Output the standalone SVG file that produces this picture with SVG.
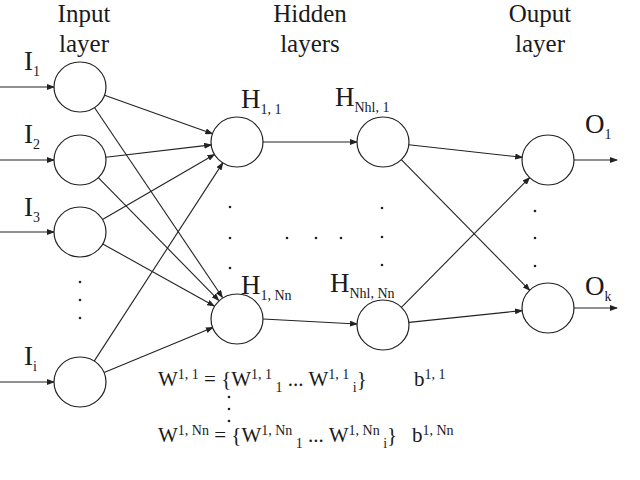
<svg xmlns="http://www.w3.org/2000/svg" width="640" height="480" viewBox="0 0 640 480">
<style>
.n{fill:#fff;stroke:#222;stroke-width:1.2}
.c line{stroke:#222;stroke-width:1.1;marker-end:url(#a)}
text{font-family:"Liberation Serif",serif;fill:#1a1a1a}
.t{font-size:25px;text-anchor:middle}
.l{font-size:27px}
.s{font-size:14px}
.f{font-size:21px}
.d{fill:#222}
</style>
<defs><marker id="a" markerWidth="8" markerHeight="6" refX="7" refY="3" orient="auto" markerUnits="userSpaceOnUse"><path d="M0,0L8,3L0,6z" fill="#222"/></marker></defs>
<rect width="640" height="480" fill="#fff"/>
<text class="t" x="84" y="22">Input</text><text class="t" x="84" y="52">layer</text>
<text class="t" x="310" y="22">Hidden</text><text class="t" x="310" y="52">layers</text>
<text class="t" x="540" y="22">Ouput</text><text class="t" x="540" y="52">layer</text>
<g class="c">
<line x1="0" y1="87" x2="54" y2="87"/><line x1="0" y1="160" x2="54" y2="160"/><line x1="0" y1="232" x2="54" y2="232"/><line x1="0" y1="382" x2="54" y2="382"/>
<line x1="104.6" y1="95.3" x2="212.4" y2="133.7"/><line x1="94.6" y1="107.7" x2="222.4" y2="297.3"/>
<line x1="105.8" y1="157.2" x2="211.2" y2="144.9"/><line x1="98.3" y1="177.7" x2="218.7" y2="300.3"/>
<line x1="102.5" y1="219.6" x2="214.5" y2="154.4"/><line x1="102.8" y1="244" x2="214.2" y2="306"/>
<line x1="94.2" y1="361.1" x2="222.8" y2="162.9"/><line x1="104.1" y1="372.6" x2="212.9" y2="327.5"/>
<line x1="263" y1="142" x2="357" y2="142"/><line x1="263" y1="319" x2="357" y2="324"/>
<line x1="408.8" y1="144.7" x2="522.2" y2="157.3"/><line x1="401.3" y1="159.7" x2="529.7" y2="290.3"/>
<line x1="401.4" y1="307.3" x2="529.6" y2="177.7"/><line x1="409" y1="322.4" x2="522" y2="310.6"/>
<line x1="574" y1="160" x2="617" y2="160"/><line x1="574" y1="308" x2="617" y2="308"/>
</g>
<g id="I1"><ellipse class="n" cx="80" cy="87" rx="26" ry="25"/><text class="l" x="24" y="70">I<tspan class="s" dy="6">1</tspan></text></g>
<g id="I2"><ellipse class="n" cx="80" cy="160" rx="26" ry="25"/><text class="l" x="24" y="143">I<tspan class="s" dy="6">2</tspan></text></g>
<g id="I3"><ellipse class="n" cx="80" cy="232" rx="26" ry="25"/><text class="l" x="24" y="216">I<tspan class="s" dy="6">3</tspan></text></g>
<g id="Ii"><ellipse class="n" cx="80" cy="382" rx="26" ry="25"/><text class="l" x="24" y="365">I<tspan class="s" dy="6">i</tspan></text></g>
<g id="H11"><ellipse class="n" cx="237" cy="142" rx="26" ry="25"/><text class="l" x="241" y="108">H<tspan class="s" dy="6">1, 1</tspan></text></g>
<g id="H1Nn"><ellipse class="n" cx="237" cy="319" rx="26" ry="25"/><text class="l" x="241" y="294">H<tspan class="s" dy="6">1, Nn</tspan></text></g>
<g id="HN1"><ellipse class="n" cx="383" cy="142" rx="26" ry="25"/><text class="l" x="335" y="106">H<tspan class="s" dy="6">Nhl, 1</tspan></text></g>
<g id="HNNn"><ellipse class="n" cx="383" cy="325" rx="26" ry="25"/><text class="l" x="330" y="292">H<tspan class="s" dy="6">Nhl, Nn</tspan></text></g>
<g id="O1"><ellipse class="n" cx="548" cy="160" rx="26" ry="25"/><text class="l" x="585" y="133">O<tspan class="s" dy="6">1</tspan></text></g>
<g id="Ok"><ellipse class="n" cx="548" cy="308" rx="26" ry="25"/><text class="l" x="585" y="295">O<tspan class="s" dy="6">k</tspan></text></g>
<g class="d">
<circle cx="80" cy="282" r="1.3"/><circle cx="80" cy="300" r="1.3"/><circle cx="80" cy="318" r="1.3"/>
<circle cx="230" cy="207" r="1.3"/><circle cx="230" cy="238" r="1.3"/><circle cx="230" cy="268" r="1.3"/>
<circle cx="382" cy="208" r="1.3"/><circle cx="382" cy="237" r="1.3"/><circle cx="382" cy="265" r="1.3"/>
<circle cx="287" cy="238" r="1.3"/><circle cx="316" cy="238" r="1.3"/><circle cx="341" cy="238" r="1.3"/>
<circle cx="535" cy="211" r="1.3"/><circle cx="535" cy="238" r="1.3"/><circle cx="535" cy="266" r="1.3"/>
<circle cx="229" cy="397" r="1.3"/><circle cx="229" cy="409" r="1.3"/><circle cx="229" cy="421" r="1.3"/>
</g>
<text class="f" x="158" y="386">W<tspan class="s" dy="-7">1, 1</tspan><tspan dy="7"> = {W</tspan><tspan class="s" dy="-7">1, 1</tspan><tspan class="s" dy="13"> 1</tspan><tspan dy="-6"> ... W</tspan><tspan class="s" dy="-7">1, 1</tspan><tspan class="s" dy="13"> i</tspan><tspan dy="-6">}</tspan></text>
<text class="f" x="414" y="386">b<tspan class="s" dy="-7">1, 1</tspan></text>
<text class="f" x="158" y="442">W<tspan class="s" dy="-7">1, Nn</tspan><tspan dy="7"> = {W</tspan><tspan class="s" dy="-7">1, Nn</tspan><tspan class="s" dy="13"> 1</tspan><tspan dy="-6"> ... W</tspan><tspan class="s" dy="-7">1, Nn</tspan><tspan class="s" dy="13"> i</tspan><tspan dy="-6">}</tspan></text>
<text class="f" x="412" y="442">b<tspan class="s" dy="-7">1, Nn</tspan></text>
</svg>
